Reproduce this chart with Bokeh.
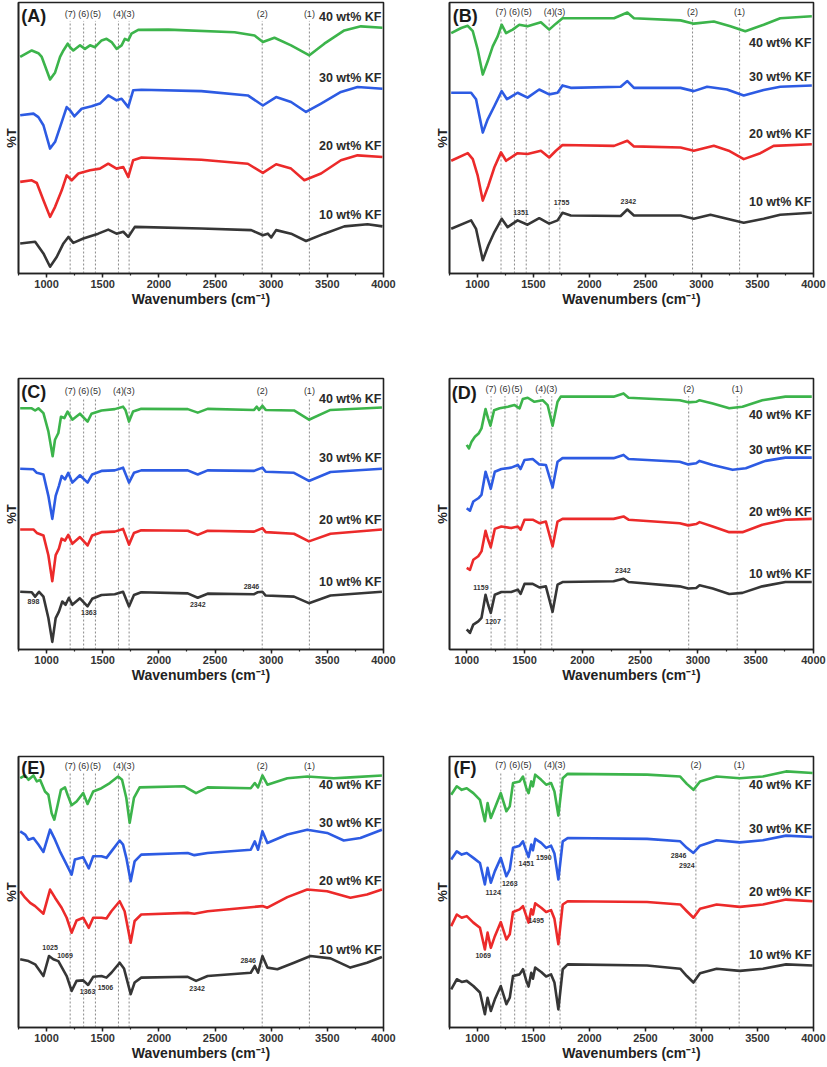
from bokeh.plotting import figure
from bokeh.models import Range1d, SingleIntervalTicker, FixedTicker, Spacer
from bokeh.layouts import column, row
from bokeh.embed import file_html
from bokeh.resources import INLINE
from bokeh.core.properties import value

FONT = "Liberation Sans"
SERIES = ["40 wt% KF", "30 wt% KF", "20 wt% KF", "10 wt% KF"]
COLORS = ["#3CB44B", "#2D5BE3", "#EC2A2A", "#363636"]

PEAK_LABELS = ["(7)", "(6)", "(5)", "(4)", "(3)", "(2)", "(1)"]
PEAK_WN = [1210, 1330, 1435, 1640, 1735, 2920, 3340]
PEAK_WN_F = [1208, 1332, 1432, 1642, 1737, 2950, 3336]

# ---------------- Panel A ----------------
A_WN_40 = [765, 868, 927, 957, 1031, 1076, 1120, 1150, 1188, 1209, 1238, 1298, 1342, 1387, 1431, 1490, 1534, 1579, 1623, 1668, 1697, 1727, 1756, 1816, 2082, 2674, 2852, 2926, 3029, 3177, 3340, 3473, 3651, 3799, 3991]
A_T_40 = [79.9, 82.3, 81.3, 79.9, 71.6, 74.2, 79.9, 82.3, 84.8, 83.5, 82.3, 84.2, 82.9, 84.2, 83.5, 86.0, 86.6, 85.4, 82.9, 84.2, 86.6, 86.0, 88.5, 89.9, 90.0, 89.0, 87.8, 85.4, 87.0, 84.2, 80.5, 84.8, 89.7, 91.2, 90.7]
A_WN_30 = [765, 883, 927, 972, 1031, 1076, 1120, 1179, 1209, 1247, 1312, 1401, 1475, 1549, 1623, 1668, 1727, 1771, 1845, 2378, 2792, 2926, 3044, 3177, 3310, 3444, 3621, 3769, 3991]
A_T_30 = [58.4, 59.0, 57.7, 54.7, 46.1, 48.6, 54.0, 61.4, 60.2, 58.0, 60.8, 61.7, 62.7, 65.7, 63.9, 64.5, 61.4, 67.6, 67.8, 67.3, 65.7, 62.0, 65.1, 63.3, 59.6, 62.7, 67.0, 68.8, 68.2]
A_WN_20 = [765, 868, 913, 972, 1031, 1076, 1135, 1179, 1224, 1283, 1387, 1475, 1549, 1623, 1683, 1727, 1771, 1845, 2378, 2792, 2926, 3044, 3177, 3295, 3444, 3621, 3769, 3991]
A_T_20 = [33.8, 34.4, 33.4, 27.0, 20.9, 24.6, 30.7, 36.2, 34.4, 36.9, 38.1, 38.7, 40.5, 38.7, 39.3, 35.6, 41.8, 42.8, 42.0, 40.5, 37.1, 40.3, 38.7, 34.4, 36.9, 41.8, 43.6, 43.0]
A_WN_10 = [765, 898, 972, 1031, 1090, 1150, 1194, 1238, 1327, 1460, 1549, 1623, 1683, 1727, 1786, 2378, 2822, 2926, 2970, 3000, 3044, 3177, 3310, 3473, 3651, 3858, 3991]
A_T_10 = [11.1, 11.7, 7.4, 2.5, 6.1, 11.1, 13.5, 11.3, 12.9, 14.7, 16.2, 14.7, 15.4, 13.5, 17.2, 16.6, 16.0, 14.1, 14.7, 13.3, 16.0, 14.7, 12.0, 14.7, 17.4, 18.2, 17.4]
A_LABEL_Y = [94.6, 72.2, 47.0, 21.5]

# ---------------- Panel B ----------------
B_WN_40 = [765, 854, 913, 958, 1002, 1047, 1091, 1136, 1180, 1216, 1255, 1314, 1373, 1447, 1566, 1640, 1700, 1759, 2219, 2338, 2397, 2813, 2931, 3110, 3258, 3391, 3555, 3703, 3985]
B_T_40 = [88.7, 90.6, 91.4, 89.4, 82.6, 73.4, 78.3, 83.8, 87.5, 91.8, 88.7, 90.0, 91.8, 91.2, 92.7, 90.0, 92.2, 94.2, 94.2, 96.3, 94.2, 93.4, 92.2, 93.0, 91.2, 89.4, 91.8, 94.2, 94.9]
B_WN_30 = [765, 943, 987, 1047, 1091, 1151, 1216, 1263, 1358, 1447, 1551, 1640, 1715, 1759, 1833, 2278, 2338, 2397, 2813, 2931, 3050, 3228, 3377, 3555, 3703, 3985]
B_T_30 = [66.7, 66.7, 64.3, 52.0, 56.9, 61.8, 67.3, 64.3, 66.7, 64.9, 67.9, 66.1, 66.7, 69.4, 68.5, 68.9, 71.0, 68.5, 68.5, 67.3, 68.9, 67.9, 65.7, 67.7, 68.9, 69.4]
B_WN_20 = [765, 913, 958, 1002, 1047, 1097, 1151, 1210, 1255, 1358, 1447, 1566, 1640, 1700, 1759, 2219, 2338, 2397, 2813, 2931, 3110, 3243, 3377, 3525, 3644, 3985]
B_T_20 = [41.6, 44.4, 42.2, 36.1, 26.9, 32.4, 39.2, 44.7, 41.6, 44.4, 44.1, 45.3, 42.8, 45.3, 47.4, 47.1, 49.0, 46.9, 46.5, 45.3, 47.1, 45.3, 42.2, 44.4, 47.1, 47.7]
B_WN_10 = [765, 943, 987, 1047, 1097, 1151, 1216, 1269, 1358, 1447, 1551, 1640, 1715, 1759, 1833, 2278, 2338, 2397, 2813, 2931, 3080, 3228, 3377, 3555, 3703, 3985]
B_T_10 = [16.5, 19.6, 16.5, 4.9, 10.4, 15.3, 20.2, 17.1, 19.6, 18.0, 20.4, 18.4, 19.6, 22.4, 21.4, 21.2, 23.6, 21.4, 21.4, 20.2, 21.7, 20.2, 18.7, 20.2, 21.7, 22.4]
B_LABEL_Y = [85.0, 72.6, 51.4, 26.3]
B_NOTE_TEXT = ["1351", "1755", "2342"]
B_NOTE_WN = [1388, 1750, 2347]
B_NOTE_Y = [22.6, 26.1, 26.6]

# ---------------- Panel C ----------------
C_WN_40 = [765, 868, 898, 927, 972, 1016, 1054, 1075, 1105, 1128, 1158, 1187, 1229, 1297, 1365, 1400, 1489, 1607, 1681, 1702, 1734, 1770, 1843, 2257, 2346, 2434, 2848, 2872, 2892, 2922, 2951, 3203, 3336, 3528, 3986]
C_T_40 = [89.0, 89.0, 88.2, 89.0, 87.2, 80.5, 71.3, 77.4, 79.9, 85.9, 85.4, 87.8, 84.8, 87.0, 84.1, 87.0, 88.2, 88.7, 89.6, 88.4, 84.1, 87.8, 88.8, 88.7, 87.4, 88.8, 88.4, 89.6, 88.4, 89.9, 88.4, 88.2, 84.8, 88.4, 89.3]
C_WN_30 = [765, 883, 913, 972, 1016, 1051, 1081, 1110, 1134, 1164, 1193, 1229, 1297, 1365, 1406, 1489, 1607, 1681, 1734, 1778, 1843, 2257, 2346, 2434, 2848, 2922, 2951, 3203, 3336, 3528, 3986]
C_T_30 = [66.7, 66.5, 65.2, 64.6, 56.7, 48.2, 56.7, 60.4, 64.0, 62.8, 65.2, 61.6, 64.3, 61.6, 64.6, 65.9, 66.1, 67.1, 61.6, 65.2, 66.1, 66.1, 64.6, 66.1, 65.9, 67.1, 65.6, 65.2, 62.2, 65.5, 66.7]
C_WN_20 = [765, 883, 913, 972, 1016, 1051, 1081, 1110, 1134, 1164, 1193, 1229, 1297, 1365, 1406, 1489, 1607, 1681, 1734, 1778, 1843, 2257, 2346, 2434, 2848, 2922, 2951, 3203, 3336, 3528, 3986]
C_T_20 = [44.3, 44.3, 43.0, 42.1, 34.8, 25.2, 34.8, 37.2, 40.9, 40.2, 42.3, 39.0, 41.5, 38.4, 42.1, 43.3, 43.5, 44.5, 38.7, 43.0, 44.0, 43.8, 42.3, 43.8, 43.5, 44.8, 43.3, 42.7, 39.9, 42.7, 44.3]
C_WN_10 = [765, 868, 898, 933, 972, 1016, 1051, 1081, 1110, 1140, 1169, 1199, 1229, 1297, 1365, 1406, 1489, 1607, 1681, 1734, 1778, 1843, 2257, 2346, 2434, 2848, 2878, 2922, 2951, 3203, 3336, 3528, 3986]
C_T_10 = [21.3, 21.1, 19.5, 21.3, 19.5, 11.6, 2.8, 11.6, 14.0, 17.7, 16.5, 19.1, 16.5, 18.9, 15.9, 18.7, 20.1, 20.4, 21.3, 15.9, 20.1, 21.1, 20.7, 19.1, 20.6, 20.4, 21.1, 21.3, 19.9, 19.5, 17.1, 19.9, 21.3]
C_LABEL_Y = [92.3, 70.7, 47.8, 25.0]
C_NOTE_TEXT = ["898", "1363", "2342", "2846"]
C_NOTE_WN = [883, 1376, 2346, 2824]
C_NOTE_Y = [17.7, 13.8, 16.5, 23.2]

# ---------------- Panel D ----------------
D_WN_40 = [999, 1019, 1041, 1070, 1104, 1127, 1162, 1184, 1204, 1236, 1284, 1356, 1413, 1456, 1484, 1527, 1585, 1656, 1699, 1742, 1785, 1813, 2270, 2356, 2399, 2842, 2916, 2985, 3014, 3128, 3271, 3385, 3557, 3757, 3985]
D_T_40 = [75.5, 74.2, 76.7, 78.5, 79.8, 81.6, 88.7, 85.3, 82.6, 88.3, 89.0, 89.6, 90.2, 89.0, 92.4, 92.9, 91.4, 92.0, 90.2, 82.6, 91.4, 93.3, 93.3, 94.5, 92.9, 92.0, 91.2, 91.4, 92.0, 90.8, 89.0, 89.6, 92.0, 93.3, 93.3]
D_WN_30 = [999, 1027, 1056, 1099, 1127, 1162, 1184, 1207, 1242, 1299, 1384, 1442, 1465, 1499, 1570, 1627, 1684, 1742, 1785, 1828, 2270, 2356, 2399, 2842, 2916, 2985, 3014, 3128, 3300, 3414, 3585, 3757, 3985]
D_T_30 = [52.1, 51.2, 54.6, 55.8, 57.1, 65.6, 62.6, 59.3, 65.6, 66.6, 67.1, 68.1, 66.6, 69.9, 70.3, 68.3, 68.1, 59.8, 69.3, 70.6, 70.6, 71.8, 70.3, 69.3, 68.3, 68.7, 69.6, 68.1, 66.3, 66.9, 69.6, 70.8, 70.8]
D_WN_20 = [999, 1027, 1056, 1099, 1127, 1162, 1184, 1207, 1242, 1299, 1384, 1442, 1465, 1499, 1570, 1627, 1684, 1742, 1785, 1828, 2270, 2356, 2399, 2842, 2916, 2985, 3014, 3128, 3271, 3385, 3557, 3757, 3985]
D_T_20 = [30.1, 29.4, 33.1, 34.4, 36.2, 43.8, 40.5, 37.7, 44.5, 45.4, 44.8, 45.4, 44.2, 47.9, 47.9, 46.6, 47.2, 38.0, 47.2, 48.2, 48.2, 49.1, 47.9, 46.6, 45.8, 46.3, 47.0, 45.4, 43.3, 43.3, 46.0, 47.9, 48.2]
D_WN_10 = [999, 1027, 1056, 1099, 1127, 1162, 1184, 1207, 1242, 1299, 1384, 1442, 1465, 1499, 1570, 1627, 1684, 1742, 1785, 1828, 2270, 2356, 2399, 2842, 2916, 2985, 3014, 3128, 3271, 3385, 3557, 3757, 3985]
D_T_10 = [7.4, 6.1, 9.2, 10.4, 11.7, 20.2, 16.6, 13.5, 20.2, 21.2, 21.2, 22.1, 20.5, 24.2, 24.2, 22.9, 23.3, 13.9, 23.9, 24.9, 25.2, 26.1, 24.9, 23.3, 22.5, 22.7, 23.7, 22.5, 20.5, 20.9, 23.3, 24.9, 24.9]
D_LABEL_Y = [86.5, 73.6, 50.7, 27.9]
D_NOTE_TEXT = ["1159", "1207", "2342"]
D_NOTE_WN = [1122, 1227, 2350]
D_NOTE_Y = [22.9, 10.4, 29.1]

# ---------------- Panel E ----------------
E_WN_40 = [765, 809, 839, 883, 913, 942, 986, 1016, 1045, 1069, 1099, 1128, 1164, 1187, 1223, 1267, 1326, 1365, 1415, 1489, 1563, 1637, 1672, 1710, 1740, 1778, 1829, 2227, 2331, 2434, 2818, 2854, 2883, 2922, 2966, 3144, 3321, 3557, 3705, 3986]
E_T_40 = [92.0, 93.0, 91.4, 93.0, 90.8, 91.4, 87.1, 85.9, 79.1, 76.7, 82.2, 87.7, 88.6, 85.9, 82.0, 83.4, 86.5, 82.5, 87.1, 88.3, 90.2, 92.6, 91.4, 84.7, 75.5, 84.7, 88.6, 89.0, 86.5, 88.6, 88.3, 90.2, 88.6, 93.0, 89.6, 92.0, 92.6, 92.0, 92.3, 93.0]
E_WN_30 = [765, 809, 839, 883, 927, 972, 1031, 1075, 1119, 1164, 1223, 1252, 1326, 1376, 1415, 1489, 1533, 1577, 1651, 1681, 1710, 1749, 1784, 1843, 2257, 2316, 2434, 2818, 2854, 2883, 2922, 2966, 3144, 3321, 3498, 3646, 3794, 3986]
E_T_30 = [72.4, 71.2, 69.3, 69.9, 67.5, 64.8, 73.0, 69.3, 65.0, 61.3, 56.4, 62.0, 62.8, 58.7, 63.2, 63.2, 62.6, 65.0, 69.0, 67.5, 62.6, 54.0, 61.3, 63.8, 64.4, 63.6, 64.4, 65.6, 68.7, 65.6, 72.4, 68.1, 71.2, 73.0, 71.8, 69.0, 69.9, 73.0]
E_WN_20 = [765, 809, 854, 898, 972, 1031, 1075, 1134, 1179, 1223, 1267, 1326, 1376, 1415, 1489, 1533, 1577, 1651, 1695, 1749, 1784, 1843, 2257, 2316, 2434, 2818, 2922, 2966, 3144, 3321, 3498, 3705, 3853, 3986]
E_T_20 = [50.3, 47.9, 46.0, 44.8, 42.0, 50.9, 47.9, 44.2, 40.5, 35.0, 39.5, 40.5, 36.8, 40.5, 40.5, 40.2, 42.9, 46.6, 42.9, 31.3, 39.3, 41.7, 42.3, 42.0, 42.9, 44.4, 44.8, 44.2, 48.1, 50.9, 50.3, 47.9, 49.1, 50.9]
E_WN_10 = [765, 839, 898, 972, 1022, 1060, 1105, 1179, 1223, 1267, 1326, 1370, 1415, 1489, 1533, 1577, 1651, 1689, 1749, 1784, 1843, 2257, 2331, 2434, 2818, 2854, 2883, 2922, 2966, 3055, 3203, 3350, 3528, 3705, 3853, 3986]
E_T_10 = [25.2, 24.5, 23.3, 19.0, 26.4, 25.2, 24.5, 19.0, 13.5, 17.2, 17.4, 15.7, 18.7, 19.0, 18.4, 20.2, 23.9, 21.8, 12.3, 16.6, 18.4, 18.7, 17.2, 19.0, 20.2, 22.7, 20.2, 26.4, 22.1, 21.5, 23.9, 26.4, 25.5, 22.1, 23.9, 26.0]
E_LABEL_Y = [89.3, 75.5, 54.0, 28.5]
E_NOTE_TEXT = ["1025", "1069", "1363", "1506", "2342", "2846"]
E_NOTE_WN = [1031, 1164, 1365, 1524, 2340, 2795]
E_NOTE_Y = [29.7, 26.7, 13.3, 14.7, 14.4, 24.8]

# ---------------- Panel F ----------------
F_WN = [765, 815, 859, 904, 963, 1022, 1066, 1090, 1119, 1155, 1208, 1258, 1288, 1317, 1376, 1406, 1436, 1456, 1480, 1495, 1515, 1569, 1613, 1657, 1687, 1722, 1761, 1805, 2514, 2810, 2869, 2928, 2987, 3135, 3342, 3548, 3755, 3992]
F_T_40 = [85.9, 89.0, 87.7, 88.3, 86.5, 84.0, 76.1, 82.8, 77.3, 81.0, 86.5, 79.8, 81.6, 90.2, 90.8, 92.6, 88.3, 86.5, 90.8, 89.0, 93.3, 91.4, 89.6, 90.2, 87.1, 78.2, 92.0, 93.6, 93.3, 92.6, 89.9, 87.7, 90.8, 92.6, 92.0, 92.6, 94.5, 93.9]
F_T_30 = [62.0, 65.0, 63.8, 64.4, 62.6, 60.7, 52.8, 58.9, 53.4, 57.7, 62.6, 55.8, 58.3, 66.3, 67.1, 68.7, 65.0, 62.9, 67.5, 65.4, 69.6, 68.1, 66.3, 67.1, 64.2, 54.6, 68.7, 69.9, 69.6, 68.7, 66.3, 64.4, 67.1, 69.1, 68.3, 69.1, 70.8, 70.3]
F_T_20 = [37.4, 41.7, 40.5, 41.1, 38.7, 36.8, 28.8, 35.0, 29.4, 33.7, 38.9, 32.5, 34.4, 42.6, 43.6, 44.8, 41.1, 38.7, 43.6, 41.7, 45.8, 44.2, 42.6, 43.3, 40.1, 30.7, 45.4, 46.6, 46.3, 45.4, 42.9, 40.5, 43.8, 45.4, 44.5, 45.4, 47.2, 46.6]
F_T_10 = [14.1, 17.8, 16.8, 17.2, 15.3, 12.9, 4.9, 11.0, 6.1, 10.4, 15.3, 8.6, 11.0, 19.0, 19.6, 21.5, 17.2, 15.1, 20.2, 18.0, 22.1, 20.5, 18.8, 19.6, 16.6, 6.7, 21.5, 23.3, 22.9, 21.7, 19.0, 16.6, 20.0, 21.7, 20.9, 21.7, 23.3, 22.9]
F_LABEL_Y = [89.6, 73.4, 49.9, 26.6]
F_NOTE_TEXT = ["2846", "2924", "1451", "1590", "1124", "1263", "1495", "1069"]
F_NOTE_WN = [2795, 2869, 1436, 1592, 1140, 1288, 1524, 1051]
F_NOTE_Y = [63.6, 59.8, 60.7, 62.9, 49.7, 53.1, 39.3, 26.6]


def make_panel(letter, x_start, curves, label_y, peak_wn, peak_y, notes, letter_x, letter_y,
               width, height, border_right, border_bottom):
    p = figure(width=width, height=height, x_range=Range1d(x_start, 4000), y_range=Range1d(0, 100),
               output_backend="svg", toolbar_location=None,
               min_border_left=17, min_border_right=border_right, min_border_top=2,
               min_border_bottom=border_bottom)
    p.background_fill_color = "white"
    p.border_fill_color = "white"
    p.outline_line_color = "#222222"
    p.outline_line_width = 1.6
    p.xgrid.visible = False
    p.ygrid.visible = False

    p.xaxis.ticker = SingleIntervalTicker(interval=500, num_minor_ticks=2)
    p.xaxis.axis_label = "Wavenumbers (cm\u207b\u00b9)"
    p.xaxis.axis_label_text_font = FONT
    p.xaxis.axis_label_text_font_style = "bold"
    p.xaxis.axis_label_text_font_size = "14px"
    p.xaxis.axis_label_text_color = "#222222"
    p.xaxis.axis_label_standoff = 0
    p.xaxis.major_label_text_font = FONT
    p.xaxis.major_label_text_font_style = "bold"
    p.xaxis.major_label_text_font_size = "11px"
    p.xaxis.major_label_text_color = "#333333"
    p.xaxis.major_label_standoff = 2
    p.xaxis.axis_line_color = "#222222"
    p.xaxis.axis_line_width = 1.6
    p.xaxis.major_tick_line_color = "#222222"
    p.xaxis.major_tick_line_width = 1.5
    p.xaxis.major_tick_out = 4
    p.xaxis.major_tick_in = 0
    p.xaxis.minor_tick_line_color = "#222222"
    p.xaxis.minor_tick_line_width = 1.2
    p.xaxis.minor_tick_out = 2
    p.xaxis.minor_tick_in = 0

    p.yaxis.ticker = FixedTicker(ticks=[])
    p.yaxis.axis_label = "%T"
    p.yaxis.axis_label_text_font = FONT
    p.yaxis.axis_label_text_font_style = "bold"
    p.yaxis.axis_label_text_font_size = "13px"
    p.yaxis.axis_label_text_color = "#222222"
    p.yaxis.axis_label_standoff = 0
    p.yaxis.major_label_standoff = 0
    p.yaxis.major_tick_line_color = None
    p.yaxis.minor_tick_line_color = None
    p.yaxis.major_tick_out = 0
    p.yaxis.minor_tick_out = 0
    p.yaxis.axis_line_color = "#222222"
    p.yaxis.axis_line_width = 1.6

    # dotted reference lines and their labels
    p.segment(x0=peak_wn, y0=[0] * len(peak_wn), x1=peak_wn, y1=[peak_y - 2.6] * len(peak_wn),
              line_color="#8a8a8a", line_width=1, line_dash="2 2")
    p.text(x=peak_wn, y=[peak_y] * len(peak_wn), text=PEAK_LABELS,
           text_font=value(FONT), text_font_size="9px", text_color="#333333",
           text_align="center", text_baseline="middle")

    for (wn, t), color in zip(curves, COLORS):
        p.line(wn, t, line_color=color, line_width=2.6, line_join="round")

    p.text(x=[3982] * 4, y=label_y, text=SERIES, text_font=value(FONT), text_font_size="12.5px",
           text_font_style="bold", text_color="#2a2a2a", text_align="right", text_baseline="middle")

    if notes is not None:
        nt, nx, ny = notes
        p.text(x=nx, y=ny, text=nt, text_font=value(FONT), text_font_size="7px",
               text_font_style="bold", text_color="#333333", text_align="center",
               text_baseline="middle")

    p.text(x=[letter_x], y=[letter_y], text=["(" + letter + ")"], text_font=value(FONT),
           text_font_size="18px", text_font_style="bold", text_color="#1a1a1a",
           text_align="left", text_baseline="middle")
    return p


LW, RW = 397, 395          # left / right figure widths
H12, H3 = 313, 311          # figure heights for rows 1-2 and row 3

pA = make_panel("A", 750, [(A_WN_40, A_T_40), (A_WN_30, A_T_30), (A_WN_20, A_T_20), (A_WN_10, A_T_10)],
                A_LABEL_Y, PEAK_WN, 95.8, None, 775, 95.2, LW, H12, 14, 40)
pB = make_panel("B", 750, [(B_WN_40, B_T_40), (B_WN_30, B_T_30), (B_WN_20, B_T_20), (B_WN_10, B_T_10)],
                B_LABEL_Y, PEAK_WN, 96.5, (B_NOTE_TEXT, B_NOTE_WN, B_NOTE_Y), 780, 94.9, RW, H12, 13, 40)
pC = make_panel("C", 750, [(C_WN_40, C_T_40), (C_WN_30, C_T_30), (C_WN_20, C_T_20), (C_WN_10, C_T_10)],
                C_LABEL_Y, PEAK_WN, 95.3, (C_NOTE_TEXT, C_NOTE_WN, C_NOTE_Y), 775, 95.1, LW, H12, 14, 40)
pD = make_panel("D", 850, [(D_WN_40, D_T_40), (D_WN_30, D_T_30), (D_WN_20, D_T_20), (D_WN_10, D_T_10)],
                D_LABEL_Y, PEAK_WN, 96.1, (D_NOTE_TEXT, D_NOTE_WN, D_NOTE_Y), 870, 94.5, RW, H12, 13, 40)
pE = make_panel("E", 750, [(E_WN_40, E_T_40), (E_WN_30, E_T_30), (E_WN_20, E_T_20), (E_WN_10, E_T_10)],
                E_LABEL_Y, PEAK_WN, 96.6, (E_NOTE_TEXT, E_NOTE_WN, E_NOTE_Y), 775, 95.7, LW, H3, 14, 38)
pF = make_panel("F", 750, [(F_WN, F_T_40), (F_WN, F_T_30), (F_WN, F_T_20), (F_WN, F_T_10)],
                F_LABEL_Y, PEAK_WN_F, 97.0, (F_NOTE_TEXT, F_NOTE_WN, F_NOTE_Y), 785, 95.7, RW, H3, 13, 38)

layout = column(
    row(pA, Spacer(width=34, height=10), pB),
    Spacer(width=10, height=63),
    row(pC, Spacer(width=34, height=10), pD),
    Spacer(width=10, height=65),
    row(pE, Spacer(width=34, height=10), pF),
)

open("out.html", "w").write(file_html(layout, INLINE, title="FTIR spectra"))
